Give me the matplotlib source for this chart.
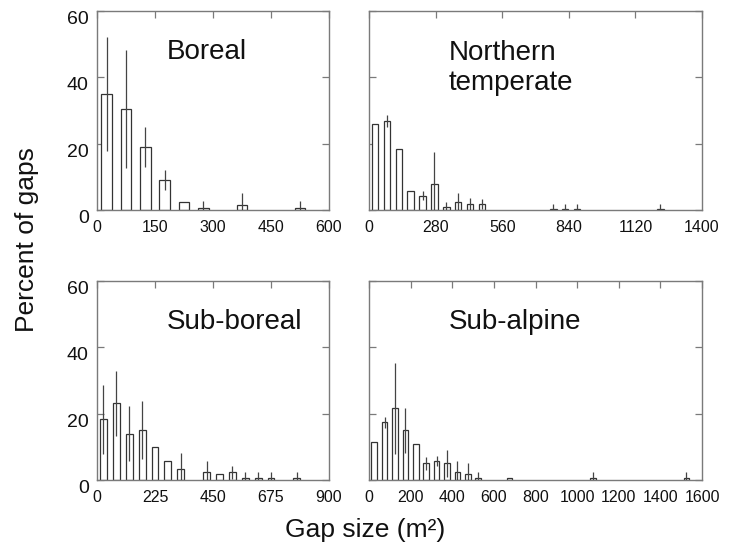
import matplotlib
matplotlib.use("Agg")
import matplotlib.pyplot as plt
import numpy as np

plt.rcParams['font.family'] = ['Liberation Sans', 'DejaVu Sans']

# ---- data ----
boreal_x = [25, 75, 125, 175, 225, 275, 375, 525]
boreal_y = [35, 30.5, 19, 9, 2.5, 0.7, 1.5, 0.7]
boreal_err = [17.3, 17.7, 6.1, 3.1, 0, 1.9, 3.5, 1.9]

north_x = [25, 75, 125, 175, 225, 275, 325, 375, 425, 475, 775, 825, 875, 1225]
north_y = [26, 26.7, 18.5, 5.6, 4.3, 7.8, 1, 2.5, 1.7, 1.7, 0.4, 0.4, 0.4, 0.4]
north_err = [0, 1.8, 0, 0, 1.3, 9.7, 1.5, 2.5, 2.0, 1.5, 1.3, 1.3, 1.3, 1.3]

subbor_x = [25, 75, 125, 175, 225, 275, 325, 425, 475, 525, 575, 625, 675, 775]
subbor_y = [18.3, 23.1, 14, 15, 9.8, 5.7, 3.3, 2.3, 1.7, 2.3, 0.7, 0.7, 0.7, 0.7]
subbor_err = [10.4, 9.8, 8.4, 8.8, 0, 0, 4.9, 3.4, 0, 1.9, 1.6, 1.6, 1.6, 1.6]

subalp_x = [25, 75, 125, 175, 225, 275, 325, 375, 425, 475, 525, 675, 1075, 1525]
subalp_y = [11.5, 17.4, 21.6, 15, 11, 5, 5.7, 5, 2.3, 1.7, 0.7, 0.7, 0.7, 0.7]
subalp_err = [0, 1.7, 13.7, 6.8, 0, 1.9, 1.5, 4.1, 3.4, 3.3, 1.6, 0, 1.6, 1.6]

titles = ["Boreal", "Northern\ntemperate", "Sub-boreal", "Sub-alpine"]
xticks_boreal = [0, 150, 300, 450, 600]
xticks_north = [0, 280, 560, 840, 1120, 1400]
xticks_subbor = [0, 225, 450, 675, 900]
xticks_subalp = [0, 200, 400, 600, 800, 1000, 1200, 1400, 1600]
yticks = [0, 20, 40, 60]

panels = [
    (boreal_x, boreal_y, boreal_err, xticks_boreal),
    (north_x, north_y, north_err, xticks_north),
    (subbor_x, subbor_y, subbor_err, xticks_subbor),
    (subalp_x, subalp_y, subalp_err, xticks_subalp),
]

W, H = 734, 554
fig = plt.figure(figsize=(W / 100, H / 100), dpi=100)

# axes rectangles in pixels: (left, top, right, bottom)
rects = [(97, 11, 329, 210), (369, 11, 702, 210),
         (97, 281, 329, 480), (369, 281, 702, 480)]
# baseline of the last text line, in axes fraction
title_pos = [(0.30, 0.757), (0.24, 0.603), (0.30, 0.76), (0.24, 0.757)]

spine_col = '#7a7a7a'
for i, ((x, y, e, xt), (l, t, r, b)) in enumerate(zip(panels, rects)):
    ax = fig.add_axes([l / W, 1 - b / H, (r - l) / W, (b - t) / H])
    ax.bar(x, y, width=27, facecolor='white', edgecolor='#333333',
           linewidth=0.9, zorder=2)
    x_a = np.array(x, float)
    y_a = np.array(y, float)
    e_a = np.array(e, float)
    m = e_a > 0
    ax.vlines(x_a[m], np.clip(y_a[m] - e_a[m], 0, None), y_a[m] + e_a[m],
              color='#444444', linewidth=0.9, zorder=3)
    ax.set_xlim(xt[0], xt[-1])
    ax.set_ylim(0, 60)
    ax.set_xticks(xt)
    ax.set_xticklabels([str(v) for v in xt], fontsize=11.5)
    ax.set_yticks(yticks)
    left_col = (i % 2 == 0)
    ax.set_yticklabels([str(v) for v in yticks], fontsize=14)
    ax.tick_params(axis='x', direction='in', bottom=False, top=True,
                   labelbottom=True, length=5, width=0.9, color=spine_col,
                   pad=7, labelcolor='#111111')
    ax.tick_params(axis='y', direction='in', left=True, right=True,
                   labelleft=left_col, length=5, width=0.9, color=spine_col,
                   pad=6, labelcolor='#111111')
    for lbl in ax.get_yticklabels():
        lbl.set_va('top')
    for s in ax.spines.values():
        s.set_color(spine_col)
        s.set_linewidth(1.0)
    tx, ty = title_pos[i]
    ax.text(tx, ty, titles[i], transform=ax.transAxes, fontsize=20,
            ha='left', va='baseline', linespacing=1.22, color='#111111')

fig.text(27 / W, 1 - 240 / H, "Percent of gaps", rotation=90, fontsize=19,
         ha='center', va='center', color='#111111')
fig.text(365 / W, 1 - 530 / H, "Gap size (m²)", fontsize=19,
         ha='center', va='center', color='#111111')

fig.savefig("out.png", dpi=100)
